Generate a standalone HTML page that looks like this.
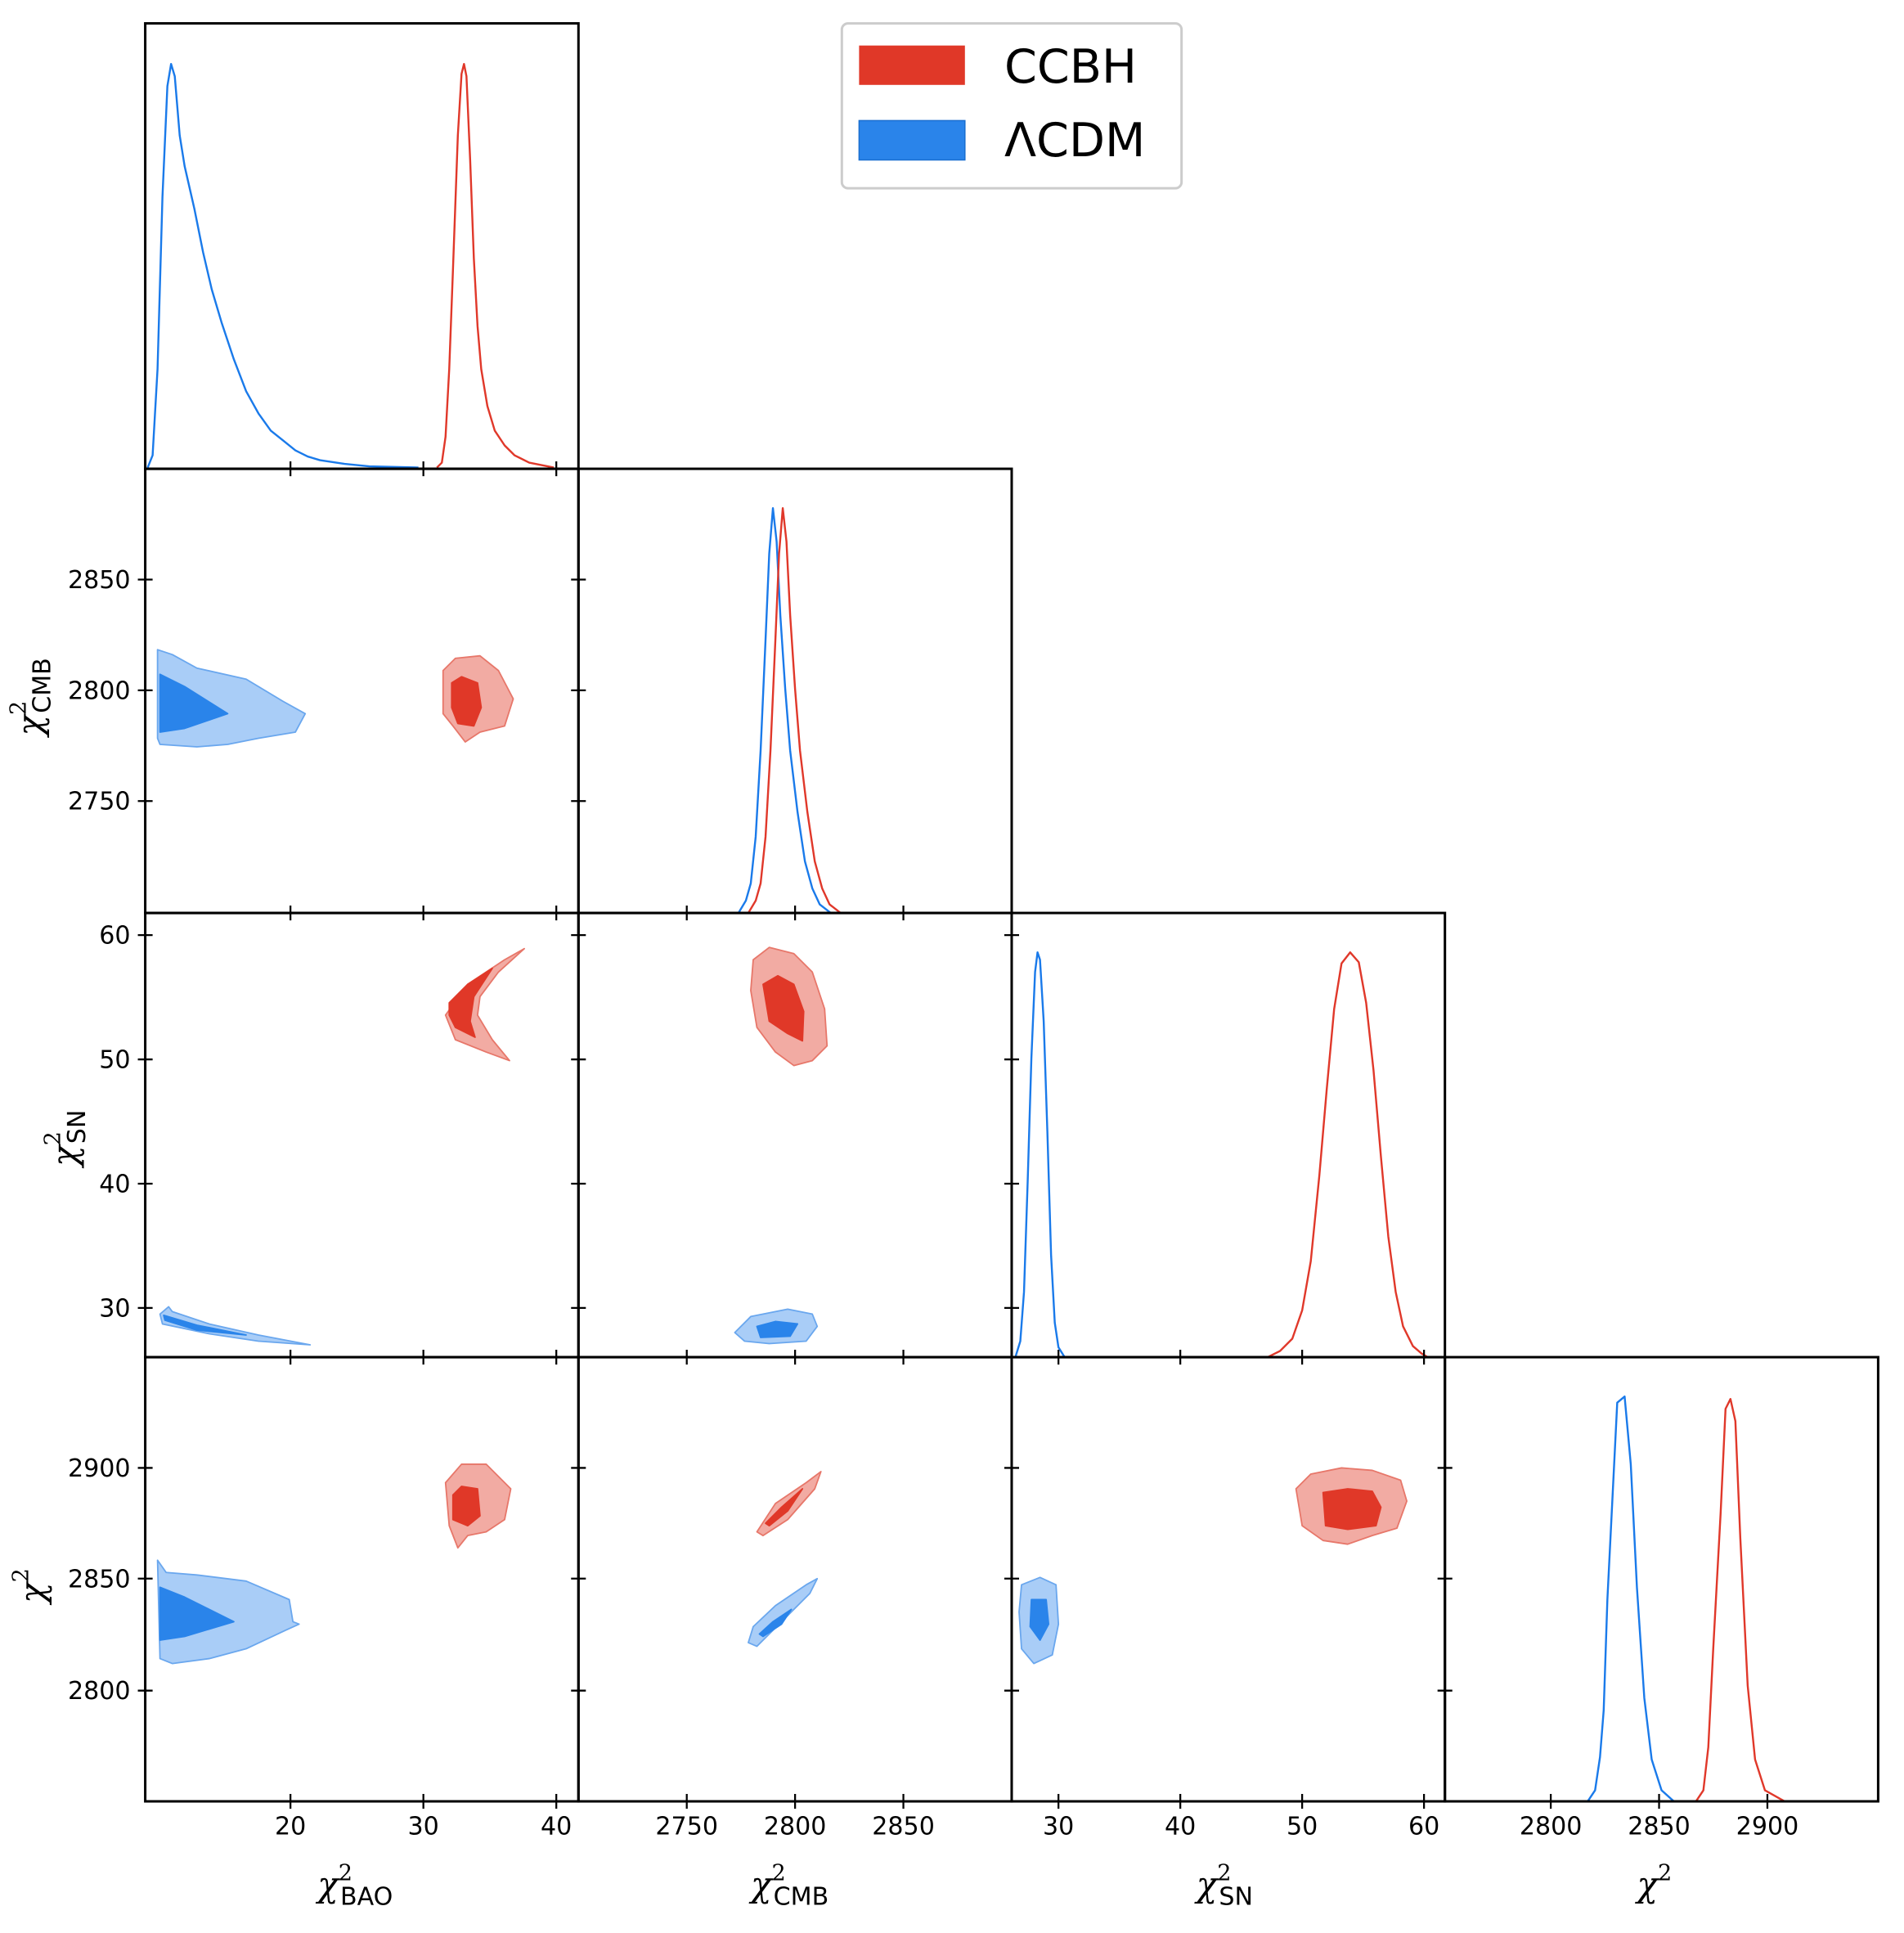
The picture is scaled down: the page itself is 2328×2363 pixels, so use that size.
<!DOCTYPE html>
<html><head><meta charset="utf-8"><style>html,body{margin:0;padding:0;background:#fff}svg{display:block}</style></head>
<body>
<svg width="2328" height="2363" viewBox="0 0 1547 1571" preserveAspectRatio="none" xmlns="http://www.w3.org/2000/svg" font-family="'DejaVu Sans','Liberation Sans',sans-serif">
<rect width="1547" height="1571" fill="#fff"/>
<g stroke-width="1.2" stroke-linejoin="round">
<path d="M128,528 L140,532 L160,543 L200,552 L230,570 L248,580 L240,595 L210,600 L185,605 L160,607 L130,605 L128,600 Z" fill="#a9cdf7" stroke="#6aa7ee"/>
<path d="M130,548 L150,558 L185,580 L150,592 L130,595 Z" fill="#2a84ea" stroke="#2a84ea"/>
<path d="M360,545 L370,535 L390,533 L405,545 L417,568 L410,590 L390,595 L378,603 L368,590 L360,580 Z" fill="#f2aba3" stroke="#e7776a"/>
<path d="M367,555 L375,550 L388,555 L391,575 L385,590 L372,588 L367,575 Z" fill="#e03828" stroke="#e03828"/>
<path d="M362,825 L380,800 L410,780 L426,771 L405,790 L390,810 L388,825 L400,845 L414,862 L395,855 L370,845 Z" fill="#f2aba3" stroke="#e7776a"/>
<path d="M365,815 L380,800 L400,787 L385,810 L382,830 L386,843 L370,835 L365,825 Z" fill="#e03828" stroke="#e03828"/>
<path d="M130,1068 L137,1062 L140,1066 L170,1076 L210,1085 L252,1093 L210,1090 L170,1084 L132,1076 Z" fill="#a9cdf7" stroke="#6aa7ee"/>
<path d="M133,1069 L160,1077 L200,1085 L160,1081 L134,1073 Z" fill="#2a84ea" stroke="#2a84ea"/>
<path d="M128,1268 L135,1278 L160,1280 L200,1285 L235,1300 L238,1318 L243,1320 L232,1325 L200,1340 L170,1348 L140,1352 L130,1348 Z" fill="#a9cdf7" stroke="#6aa7ee"/>
<path d="M130,1290 L150,1298 L190,1318 L150,1330 L130,1333 Z" fill="#2a84ea" stroke="#2a84ea"/>
<path d="M362,1205 L375,1190 L395,1190 L415,1210 L410,1235 L395,1245 L380,1248 L372,1258 L365,1240 Z" fill="#f2aba3" stroke="#e7776a"/>
<path d="M368,1215 L375,1208 L388,1210 L390,1232 L380,1240 L368,1235 Z" fill="#e03828" stroke="#e03828"/>
<path d="M612,780 L625,770 L645,775 L660,790 L670,820 L672,850 L660,862 L645,866 L630,855 L615,835 L610,805 Z" fill="#f2aba3" stroke="#e7776a"/>
<path d="M620,800 L632,793 L645,800 L653,822 L652,846 L640,840 L625,830 Z" fill="#e03828" stroke="#e03828"/>
<path d="M597,1083 L610,1070 L640,1064 L660,1068 L664,1078 L655,1090 L625,1092 L605,1090 Z" fill="#a9cdf7" stroke="#6aa7ee"/>
<path d="M615,1078 L630,1074 L648,1076 L642,1086 L618,1087 Z" fill="#2a84ea" stroke="#2a84ea"/>
<path d="M615,1245 L630,1222 L655,1205 L667,1196 L662,1210 L640,1235 L620,1248 Z" fill="#f2aba3" stroke="#e7776a"/>
<path d="M622,1238 L635,1225 L652,1210 L640,1228 L625,1240 Z" fill="#e03828" stroke="#e03828"/>
<path d="M608,1335 L612,1322 L630,1305 L655,1288 L664,1283 L658,1295 L635,1318 L615,1338 Z" fill="#a9cdf7" stroke="#6aa7ee"/>
<path d="M617,1328 L628,1318 L643,1308 L635,1320 L620,1330 Z" fill="#2a84ea" stroke="#2a84ea"/>
<path d="M1053,1210 L1065,1198 L1090,1193 L1115,1195 L1138,1203 L1143,1220 L1135,1242 L1115,1248 L1095,1255 L1075,1252 L1058,1240 Z" fill="#f2aba3" stroke="#e7776a"/>
<path d="M1075,1213 L1095,1210 L1115,1212 L1122,1225 L1118,1240 L1095,1243 L1077,1240 Z" fill="#e03828" stroke="#e03828"/>
<path d="M830,1288 L845,1282 L858,1288 L860,1320 L855,1345 L840,1352 L830,1340 L828,1310 Z" fill="#a9cdf7" stroke="#6aa7ee"/>
<path d="M838,1300 L850,1300 L852,1320 L845,1333 L837,1322 Z" fill="#2a84ea" stroke="#2a84ea"/>
</g>
<g fill="none" stroke-width="1.6" stroke-linejoin="round">
<polyline stroke="#1a7aea" points="120,380 124,370 128,300 132,160 136,70 139,52 142,62 146,110 150,135 158,170 165,205 172,235 180,262 190,292 200,318 210,336 220,350 230,358 240,366 250,371 260,374 280,377 300,379 340,380"/>
<polyline stroke="#e0382a" points="355,380 359,376 362,355 365,300 368,220 372,110 375,60 377,52 379,62 382,130 385,210 388,265 391,300 396,330 402,350 410,362 418,370 430,376 440,378 450,380"/>
<polyline stroke="#1a7aea" points="600,742 606,732 610,718 614,680 618,610 622,520 625,450 628,413 631,440 634,500 638,560 642,610 648,660 654,700 660,722 666,735 675,742"/>
<polyline stroke="#e0382a" points="608,742 614,732 618,718 622,680 626,610 630,520 633,450 636,413 639,440 642,500 646,560 650,610 656,660 662,700 668,722 674,735 683,742"/>
<polyline stroke="#1a7aea" points="825,1103 829,1090 832,1050 835,960 838,860 841,790 843,774 845,780 848,830 851,920 854,1020 857,1075 860,1095 865,1103"/>
<polyline stroke="#e0382a" points="1030,1103 1040,1098 1050,1088 1058,1065 1065,1025 1072,955 1078,885 1084,820 1090,783 1097,774 1104,782 1110,815 1116,870 1122,940 1128,1005 1134,1050 1140,1078 1148,1094 1155,1100 1160,1103"/>
<polyline stroke="#1a7aea" points="1290,1464 1296,1455 1300,1428 1303,1390 1306,1300 1310,1220 1314,1140 1320,1135 1325,1190 1330,1290 1336,1380 1342,1430 1350,1455 1360,1464"/>
<polyline stroke="#e0382a" points="1378,1464 1384,1455 1388,1420 1392,1340 1398,1230 1402,1145 1406,1137 1410,1155 1414,1250 1420,1370 1426,1430 1434,1455 1450,1464"/>
</g>
<g fill="none" stroke="#000" stroke-width="2">
<rect x="118" y="19" width="352" height="362"/>
<rect x="118" y="381" width="352" height="361"/><rect x="470" y="381" width="352" height="361"/>
<rect x="118" y="742" width="352" height="361"/><rect x="470" y="742" width="352" height="361"/><rect x="822" y="742" width="352" height="361"/>
<rect x="118" y="1103" width="352" height="361"/><rect x="470" y="1103" width="352" height="361"/><rect x="822" y="1103" width="352" height="361"/><rect x="1174" y="1103" width="352" height="361"/>
</g>
<g stroke="#000" stroke-width="1.5">
<path d="M236,375V387M344,375V387M452,375V387 M236,736V748M344,736V748M452,736V748 M236,1097V1109M344,1097V1109M452,1097V1109 M236,1458V1470M344,1458V1470M452,1458V1470"/>
<path d="M558,736V748M646,736V748M734,736V748 M558,1097V1109M646,1097V1109M734,1097V1109 M558,1458V1470M646,1458V1470M734,1458V1470"/>
<path d="M860,1097V1109M959,1097V1109M1058,1097V1109M1157,1097V1109 M860,1458V1470M959,1458V1470M1058,1458V1470M1157,1458V1470"/>
<path d="M1260,1458V1470M1348,1458V1470M1436,1458V1470"/>
<path d="M112,471H124M112,561H124M112,651H124 M464,471H476M464,561H476M464,651H476"/>
<path d="M112,760H124M112,861H124M112,962H124M112,1063H124 M464,760H476M464,861H476M464,962H476M464,1063H476 M816,760H828M816,861H828M816,962H828M816,1063H828"/>
<path d="M112,1193H124M112,1283H124M112,1374H124 M464,1193H476M464,1283H476M464,1374H476 M816,1193H828M816,1283H828M816,1374H828 M1168,1193H1180M1168,1283H1180M1168,1374H1180"/>
</g>
<g font-size="20" fill="#000" text-anchor="middle">
<text x="236" y="1491">20</text><text x="344" y="1491">30</text><text x="452" y="1491">40</text>
<text x="558" y="1491">2750</text><text x="646" y="1491">2800</text><text x="734" y="1491">2850</text>
<text x="860" y="1491">30</text><text x="959" y="1491">40</text><text x="1058" y="1491">50</text><text x="1157" y="1491">60</text>
<text x="1260" y="1491">2800</text><text x="1348" y="1491">2850</text><text x="1436" y="1491">2900</text>
</g>
<g font-size="20" fill="#000" text-anchor="end">
<text x="106" y="478">2850</text><text x="106" y="568">2800</text><text x="106" y="658">2750</text>
<text x="106" y="767">60</text><text x="106" y="868">50</text><text x="106" y="969">40</text><text x="106" y="1070">30</text>
<text x="106" y="1200">2900</text><text x="106" y="1290">2850</text><text x="106" y="1381">2800</text>
</g>
<g font-size="28" font-style="italic" fill="#000" font-family="'DejaVu Serif','Liberation Serif',serif">
<text x="258" y="1541">χ<tspan font-size="18" dy="-13" font-style="normal">2</tspan><tspan font-size="20" dx="-10" dy="20" font-style="normal" font-family="'DejaVu Sans',sans-serif">BAO</tspan></text>
<text x="610" y="1541">χ<tspan font-size="18" dy="-13" font-style="normal">2</tspan><tspan font-size="20" dx="-10" dy="20" font-style="normal" font-family="'DejaVu Sans',sans-serif">CMB</tspan></text>
<text x="972" y="1541">χ<tspan font-size="18" dy="-13" font-style="normal">2</tspan><tspan font-size="20" dx="-10" dy="20" font-style="normal" font-family="'DejaVu Sans',sans-serif">SN</tspan></text>
<text x="1330" y="1541">χ<tspan font-size="18" dy="-13" font-style="normal">2</tspan></text>
<text transform="translate(34,598) rotate(-90)">χ<tspan font-size="18" dy="-13" font-style="normal">2</tspan><tspan font-size="20" dx="-10" dy="20" font-style="normal" font-family="'DejaVu Sans',sans-serif">CMB</tspan></text>
<text transform="translate(62,948) rotate(-90)">χ<tspan font-size="18" dy="-13" font-style="normal">2</tspan><tspan font-size="20" dx="-10" dy="20" font-style="normal" font-family="'DejaVu Sans',sans-serif">SN</tspan></text>
<text transform="translate(36,1303) rotate(-90)">χ<tspan font-size="18" dy="-13" font-style="normal">2</tspan></text>
</g>
<rect x="684" y="19" width="276" height="134" rx="5" fill="#fff" stroke="#cccccc" stroke-width="2"/>
<rect x="698" y="37" width="86" height="32" fill="#e03828"/>
<rect x="698" y="98" width="86" height="32" fill="#2a84ea" stroke="#1a6fd0"/>
<text x="816" y="67" font-size="38" fill="#000">CCBH</text>
<text x="816" y="127" font-size="38" fill="#000">ΛCDM</text>
</svg>
</body></html>
